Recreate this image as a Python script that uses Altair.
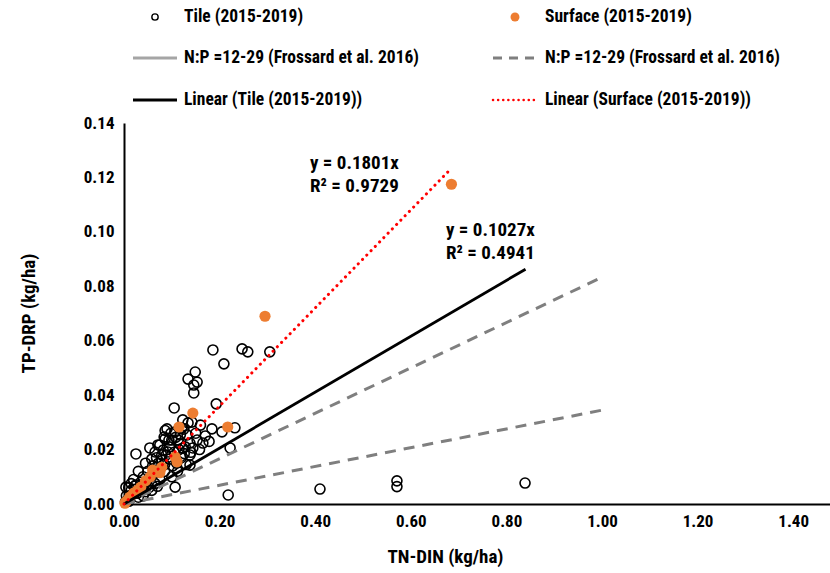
import altair as alt
import pandas as pd

# Tile drainage events (2015-2019): TN-DIN vs TP-DRP, kg/ha
tile_tn = [0.839, 0.571, 0.571, 0.410, 0.218, 0.222, 0.232, 0.205, 0.184,
           0.186, 0.247, 0.259, 0.305, 0.209, 0.149, 0.134, 0.153, 0.146,
           0.146, 0.193, 0.105, 0.123, 0.142, 0.121, 0.107, 0.132, 0.086,
           0.153, 0.165, 0.100, 0.113, 0.138, 0.075, 0.123, 0.144, 0.065,
           0.092, 0.079, 0.138, 0.054, 0.025, 0.090, 0.134, 0.107, 0.095,
           0.110, 0.130, 0.138, 0.085, 0.100, 0.075, 0.060, 0.050, 0.045,
           0.040, 0.035, 0.030, 0.025, 0.020, 0.015, 0.010, 0.005, 0.008,
           0.012, 0.018, 0.022, 0.028, 0.033, 0.038, 0.042, 0.048, 0.055,
           0.062, 0.068, 0.072, 0.080, 0.088, 0.095, 0.105, 0.115, 0.120,
           0.128, 0.108, 0.098, 0.118, 0.085, 0.065, 0.052, 0.045, 0.058,
           0.070, 0.004, 0.010, 0.003, 0.030, 0.040, 0.015, 0.022, 0.150,
           0.160, 0.086, 0.084, 0.071, 0.112, 0.126, 0.170, 0.158, 0.178,
           0.094, 0.117, 0.082, 0.068, 0.102, 0.058, 0.140, 0.125]
tile_tp = [0.0077, 0.0085, 0.0064, 0.0055, 0.0033, 0.0206, 0.0280, 0.0265, 0.0276,
           0.0566, 0.0570, 0.0559, 0.0559, 0.0515, 0.0485, 0.0459, 0.0448, 0.0437,
           0.0408, 0.0368, 0.0353, 0.0309, 0.0301, 0.0279, 0.0265, 0.0254, 0.0239,
           0.0235, 0.0224, 0.0235, 0.0235, 0.0224, 0.0217, 0.0206, 0.0206, 0.0191,
           0.0191, 0.0180, 0.0180, 0.0206, 0.0184, 0.0276, 0.0298, 0.0062, 0.0165,
           0.0150, 0.0145, 0.0143, 0.0120, 0.0100, 0.0090, 0.0140, 0.0120, 0.0150,
           0.0100, 0.0080, 0.0120, 0.0070, 0.0090, 0.0050, 0.0060, 0.0030, 0.0015,
           0.0025, 0.0035, 0.0045, 0.0040, 0.0055, 0.0060, 0.0075, 0.0085, 0.0100,
           0.0110, 0.0125, 0.0150, 0.0160, 0.0180, 0.0210, 0.0190, 0.0200, 0.0170,
           0.0210, 0.0245, 0.0260, 0.0255, 0.0145, 0.0075, 0.0060, 0.0045, 0.0050,
           0.0065, 0.0062, 0.0010, 0.0008, 0.0025, 0.0030, 0.0075, 0.0065, 0.0260,
           0.0290, 0.0270, 0.0246, 0.0217, 0.0120, 0.0185, 0.0250, 0.0200, 0.0230,
           0.0235, 0.0222, 0.0198, 0.0170, 0.0140, 0.0165, 0.0190, 0.0275]

# Surface runoff events (2015-2019)
surface_tn = [0.685, 0.295, 0.217, 0.144, 0.115, 0.107, 0.111, 0.079, 0.063, 0.055,
              0.045, 0.035, 0.020, 0.012, 0.004, 0.002, 0.060, 0.075, 0.028, 0.008]
surface_tp = [0.1175, 0.0690, 0.0283, 0.0334, 0.0283, 0.0173, 0.0155, 0.0135, 0.0118, 0.0100,
              0.0085, 0.0062, 0.0040, 0.0025, 0.0008, 0.0003, 0.0125, 0.0115, 0.0050, 0.0015]

# Zero-intercept trendlines and the N:P = 12-29 reference band
tile_slope, tile_r2, tile_xmax = 0.1027, 0.4941, 0.84
surface_slope, surface_r2, surface_xmax = 0.1801, 0.9729, 0.685
np_ratios = [12, 29]
np_xmax = 1.0

x_ticks = [0.0, 0.2, 0.4, 0.6, 0.8, 1.0, 1.2, 1.4]
y_ticks = [0.0, 0.02, 0.04, 0.06, 0.08, 0.10, 0.12, 0.14]

legend_labels = [
    "Tile (2015-2019)", "Surface (2015-2019)",
    "N:P =12-29 (Frossard et al. 2016)", "N:P =12-29 (Frossard et al. 2016)",
    "Linear (Tile (2015-2019))", "Linear (Surface (2015-2019))",
]

FONT = "Roboto Condensed, Roboto, sans-serif"
ORANGE = "#ED7D31"
GRAY = "#7F7F7F"
LIGHT_GRAY = "#A5A5A5"

W, H = 706, 381

x_scale = alt.Scale(domain=[0, 1.477], nice=False, zero=True)
y_scale = alt.Scale(domain=[0, 0.14], nice=False, zero=True)

tile_df = pd.DataFrame({"tn": tile_tn, "tp": tile_tp})
surface_df = pd.DataFrame({"tn": surface_tn, "tp": surface_tp})


def line_df(slope, xmax):
    return pd.DataFrame({"tn": [0.0, xmax], "tp": [0.0, slope * xmax]})


x_axis = alt.Axis(values=x_ticks, format=".2f", title="TN-DIN (kg/ha)",
                  titleX=321, titleY=52, titleAlign="center", titleBaseline="middle",
                  labelPadding=9, labelFlush=False, labelOverlap=False)
y_axis = alt.Axis(values=y_ticks, format=".2f", title="TP-DRP (kg/ha)",
                  titleX=-96, titleY=190, titleAngle=-90, titleAlign="center",
                  titleBaseline="middle", labelPadding=10, labelFlush=False,
                  labelOverlap=False)

X = alt.X("tn:Q", scale=x_scale, axis=x_axis)
Y = alt.Y("tp:Q", scale=y_scale, axis=y_axis)

tile_layer = alt.Chart(tile_df).mark_point(
    shape="circle", filled=False, stroke="black", strokeWidth=1.6, size=100, opacity=1
).encode(x=X, y=Y)

surface_layer = alt.Chart(surface_df).mark_point(
    shape="circle", filled=True, color=ORANGE, size=125, opacity=1
).encode(x=X, y=Y)

np_layers = [
    alt.Chart(line_df(1.0 / r, np_xmax)).mark_line(
        color=GRAY, strokeWidth=3, strokeDash=[11, 8]
    ).encode(x=X, y=Y)
    for r in np_ratios
]

tile_fit = alt.Chart(line_df(tile_slope, tile_xmax)).mark_line(
    color="black", strokeWidth=2.8
).encode(x=X, y=Y)

surface_fit = alt.Chart(line_df(surface_slope, surface_xmax)).mark_line(
    color="red", strokeWidth=3, strokeDash=[0.1, 6], strokeCap="round"
).encode(x=X, y=Y)

one = pd.DataFrame({"k": [0]})


def text_at(txt, x, y, size=17, align="left"):
    return alt.Chart(one).mark_text(
        text=txt, align=align, baseline="middle", font=FONT, fontSize=size,
        fontWeight="bold", color="black"
    ).encode(x=alt.value(x), y=alt.value(y))


# Trendline equations
equations = [
    text_at(f"y = {surface_slope:.4f}x", 186, 40, 19),
    text_at(f"R² = {surface_r2:.4f}", 186, 63, 19),
    text_at(f"y = {tile_slope:.4f}x", 322, 107, 19),
    text_at(f"R² = {tile_r2:.4f}", 322, 130, 19),
]

# Legend above the plot, two columns by three rows
row_y = [-106, -65, -23]
col_sym = [31, 391]
col_line = [(9, 53), (369, 414)]
col_text = [60, 421]

legend = [
    alt.Chart(one).mark_point(shape="circle", filled=False, stroke="black",
                              strokeWidth=1.4, size=40, opacity=1)
    .encode(x=alt.value(col_sym[0]), y=alt.value(row_y[0])),
    alt.Chart(one).mark_point(shape="circle", filled=True, color=ORANGE,
                              size=80, opacity=1)
    .encode(x=alt.value(col_sym[1]), y=alt.value(row_y[0])),
    alt.Chart(one).mark_rule(color=LIGHT_GRAY, strokeWidth=3)
    .encode(x=alt.value(col_line[0][0]), x2=alt.value(col_line[0][1]), y=alt.value(row_y[1])),
    alt.Chart(one).mark_rule(color=GRAY, strokeWidth=3, strokeDash=[9, 7])
    .encode(x=alt.value(col_line[1][0]), x2=alt.value(col_line[1][1]), y=alt.value(row_y[1])),
    alt.Chart(one).mark_rule(color="black", strokeWidth=3)
    .encode(x=alt.value(col_line[0][0]), x2=alt.value(col_line[0][1]), y=alt.value(row_y[2])),
    alt.Chart(one).mark_rule(color="red", strokeWidth=2.5, strokeDash=[0.1, 5], strokeCap="round")
    .encode(x=alt.value(col_line[1][0]), x2=alt.value(col_line[1][1]), y=alt.value(row_y[2])),
]
for i, lab in enumerate(legend_labels):
    legend.append(text_at(lab, col_text[i % 2], row_y[i // 2], 17.5))

chart = alt.layer(
    tile_layer, surface_layer, *np_layers, tile_fit, surface_fit, *equations, *legend
).properties(
    width=W, height=H,
    autosize=alt.AutoSizeParams(type="none"),
    padding={"left": 124, "top": 123, "right": 0, "bottom": 69},
).configure_view(
    stroke=None
).configure_axis(
    grid=False, ticks=False, domainColor="black", domainWidth=2,
    labelFont=FONT, labelFontSize=17, labelFontWeight="bold", labelColor="black",
    titleFont=FONT, titleFontSize=19, titleFontWeight="bold", titleColor="black",
)

chart.save("out.html", embed_options={"renderer": "svg", "actions": False})
